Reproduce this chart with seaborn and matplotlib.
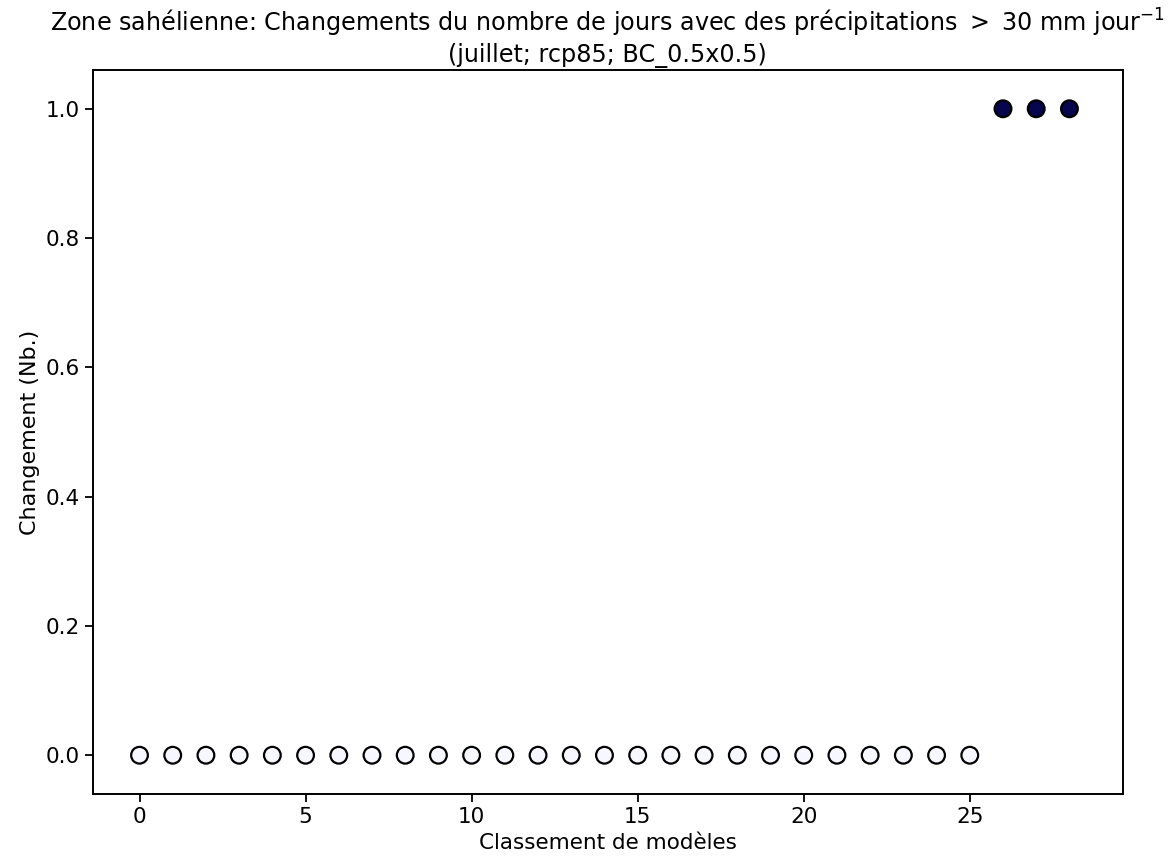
import numpy as np
import pandas as pd
import matplotlib
matplotlib.use('Agg')
import matplotlib.pyplot as plt
import seaborn as sns

# model ranking and change values
rang = list(range(29))
changement = [0]*26 + [1]*3
titre = 'Zone sahélienne: Changements du nombre de jours avec des précipitations $>$ 30 mm jour$^{-1}$\n(juillet; rcp85; BC_0.5x0.5)'

df = pd.DataFrame({'rang': rang, 'changement': changement})

sns.set_style('ticks')
plt.rcParams['font.family'] = ['DejaVu Sans']
plt.rcParams['text.color'] = 'black'
plt.rcParams['axes.labelcolor'] = 'black'
plt.rcParams['xtick.color'] = 'black'
plt.rcParams['ytick.color'] = 'black'

fig = plt.figure(figsize=(11.73, 8.61), dpi=100)
ax = fig.add_axes([0.0793, 0.0778, 0.8777, 0.8409])

sns.scatterplot(data=df, x='rang', y='changement', hue='changement',
                palette={0: '#f7f8ff', 1: '#06064f'}, edgecolor='black',
                linewidth=1.6, s=145, legend=False, ax=ax)

ax.set_xlim(-1.4, 29.6)
ax.set_ylim(-0.06, 1.06)
ax.set_xticks([0, 5, 10, 15, 20, 25])
ax.set_yticks([0.0, 0.2, 0.4, 0.6, 0.8, 1.0])
ax.set_yticklabels(['0.0', '0.2', '0.4', '0.6', '0.8', '1.0'])
ax.tick_params(labelsize=15.5, length=6, width=1.3, colors='black')
for s in ax.spines.values():
    s.set_linewidth(1.4)
    s.set_color('black')
ax.set_xlabel('Classement de modèles', fontsize=15.5)
ax.set_ylabel('Changement (Nb.)', fontsize=16)
ax.set_title(titre, fontsize=17.2)

plt.savefig('out.png', dpi=100)
